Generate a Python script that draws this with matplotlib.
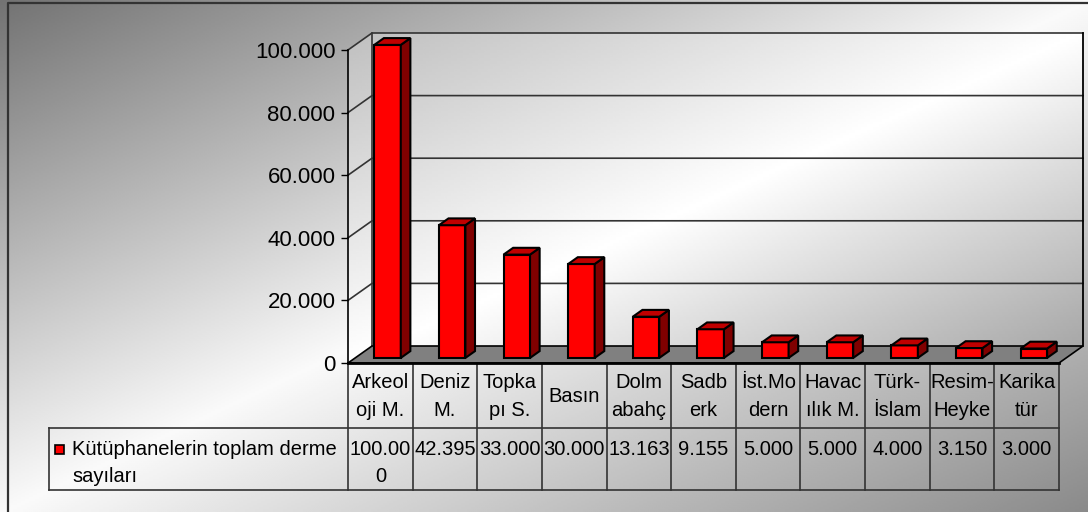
import numpy as np
import matplotlib
matplotlib.use('Agg')
import matplotlib.pyplot as plt
from matplotlib.patches import Polygon, Rectangle
from matplotlib.ticker import FuncFormatter

plt.rcParams['font.family'] = ['Liberation Sans', 'DejaVu Sans']

# data
categories = ['Arkeol\noji M.', 'Deniz\nM.', 'Topka\npı S.', 'Basın', 'Dolm\nabahç', 'Sadb\nerk',
              'İst.Mo\ndern', 'Havac\nılık M.', 'Türk-\nİslam', 'Resim-\nHeyke', 'Karika\ntür']
values = [100000, 42395, 33000, 30000, 13163, 9155, 5000, 5000, 4000, 3150, 3000]
series_name = 'Kütüphanelerin toplam derme\nsayıları'
yticks = [0, 20000, 40000, 60000, 80000, 100000]


def tr_num(v):
    return f'{v:,.0f}'.replace(',', '.')


W, H = 1088, 512
fig = plt.figure(figsize=(W / 100, H / 100), dpi=100)

# background, pixel coordinates
bg = fig.add_axes([0, 0, 1, 1], zorder=-3)
yy, xx = np.mgrid[0:H:2, 0:W:2]
s = xx / W + yy / H
shade = np.where(s < 1, 0.45 + 0.53 * s, 0.98 - 0.44 * (s - 1))
bg.imshow(shade, cmap='gray', vmin=0, vmax=1, extent=(0, W, H, 0),
          aspect='auto', interpolation='bilinear', zorder=0)
bg.set_xlim(0, W)
bg.set_ylim(H, 0)
bg.axis('off')
bg.plot([8, 8, W], [H, 3, 3], color='#333333', lw=1.6)

# front plane of the 3d plot
L, R, B, T = 348, 1059, 363, 50
n = len(values)
ax = fig.add_axes([L / W, 1 - B / H, (R - L) / W, (B - T) / H], zorder=0)
ax.set_xlim(-0.5, n - 0.5)
ax.set_ylim(0, yticks[-1])
ax.patch.set_visible(False)

px_x = (R - L) / n                 # pixels per category
val_px = yticks[-1] / (B - T)      # value per pixel
DX, DY = 24 / px_x, 17 * val_px    # depth of the 3d box
x0, x1 = -0.5, n - 0.5
top = yticks[-1]

# walls: gradient image on the background axes, clipped to the wall outline
to_px = ax.transData + bg.transData.inverted()
(wx0, wy0), (wx1, wy1) = to_px.transform([(x0, 0), (x1 + DX, top + DY)])
gy, gx = np.mgrid[0:1:120j, 0:1:240j]
ws = gx + gy
wall_shade = np.where(ws < 1, 0.75 + 0.25 * ws, 1.0 - 0.36 * (ws - 1))
im = bg.imshow(wall_shade, cmap='gray', vmin=0, vmax=1, aspect='auto',
               extent=(wx0, wx1, wy0, wy1), interpolation='bilinear', zorder=1)
wall_verts = [(x0, 0), (x0, top), (x0 + DX, top + DY), (x1 + DX, top + DY),
              (x1 + DX, DY), (x1, 0)]
im.set_clip_path(Polygon(wall_verts, closed=True, transform=ax.transData))
bg.set_xlim(0, W)
bg.set_ylim(H, 0)

# gridlines on side and back wall
for t in yticks[1:]:
    ax.plot([x0, x0 + DX, x1 + DX], [t, t + DY, t + DY], color='#333333',
            lw=1.2, clip_on=False, zorder=1)
ax.plot([x0 + DX, x0 + DX], [DY, top + DY], color='#333333', lw=1.2, clip_on=False, zorder=1)
ax.plot([x1 + DX, x1 + DX], [DY, top + DY], color='black', lw=1.3, clip_on=False, zorder=1)

# floor
ax.add_patch(Polygon([(x0, 0), (x1, 0), (x1 + DX, DY), (x0 + DX, DY)], closed=True,
                     fc='#808080', ec='black', lw=1.2, clip_on=False, zorder=2))
ax.plot([x0, x1], [0, 0], color='black', lw=2, clip_on=False, zorder=2)

# 3d bars
xs = np.arange(n)
bw = 26.5 / px_x
f, d = 0.3, 0.4
bars = ax.bar(xs + f * DX, values, width=bw, bottom=f * DY, color='#FF0000',
              edgecolor='black', lw=1.5, clip_on=False, zorder=3)
for rect in bars:
    bx, by = rect.get_x(), rect.get_y()
    bwd, bh = rect.get_width(), rect.get_height()
    side = [(bx + bwd, by), (bx + bwd + d * DX, by + d * DY),
            (bx + bwd + d * DX, by + bh + d * DY), (bx + bwd, by + bh)]
    cap = [(bx, by + bh), (bx + bwd, by + bh),
           (bx + bwd + d * DX, by + bh + d * DY), (bx + d * DX, by + bh + d * DY)]
    ax.add_patch(Polygon(side, closed=True, fc='#800000', ec='black', lw=1.5,
                         clip_on=False, zorder=3))
    ax.add_patch(Polygon(cap, closed=True, fc='#C00000', ec='black', lw=1.5,
                         clip_on=False, zorder=3))

# axis
for sp in ['top', 'right', 'bottom']:
    ax.spines[sp].set_visible(False)
ax.spines['left'].set_color('black')
ax.spines['left'].set_linewidth(1.2)
ax.set_xticks([])
ax.set_yticks(yticks)
ax.yaxis.set_major_formatter(FuncFormatter(lambda v, p: tr_num(v)))
ax.tick_params(axis='y', length=5, width=1, pad=4, labelsize=16, colors='black')

# data table under the plot
edges = to_px.transform([(e, 0) for e in np.arange(n + 1) - 0.5])[:, 0]
centers = to_px.transform([(c, 0) for c in xs])[:, 0]
row_top, row_mid, row_bot = 363, 428, 490
leg_left = 49
line_kw = dict(color='#333333', lw=1.2)
for e in edges:
    bg.plot([e, e], [row_top, row_bot], **line_kw)
bg.plot([leg_left, leg_left], [row_mid, row_bot], **line_kw)
bg.plot([leg_left, edges[-1]], [row_mid, row_mid], **line_kw)
bg.plot([leg_left, edges[-1]], [row_bot, row_bot], **line_kw)

txt_kw = dict(fontsize=14.5, color='black', linespacing=1.55)
for cx, lab in zip(centers, categories):
    bg.text(cx, (row_top + row_mid) / 2 + 1, lab, ha='center', va='center', **txt_kw)
for cx, v in zip(centers, values):
    lab = tr_num(v)
    if len(lab) > 6:
        lab = lab[:6] + '\n' + lab[6:]
    bg.text(cx, row_mid + 12, lab, ha='center', va='top', **txt_kw)

bg.add_patch(Rectangle((55, 445), 9, 9, fc='#FF0000', ec='black', lw=1.2))
bg.text(72, row_mid + 12, series_name, ha='left', va='top', **txt_kw)

fig.savefig('out.png', dpi=100)
